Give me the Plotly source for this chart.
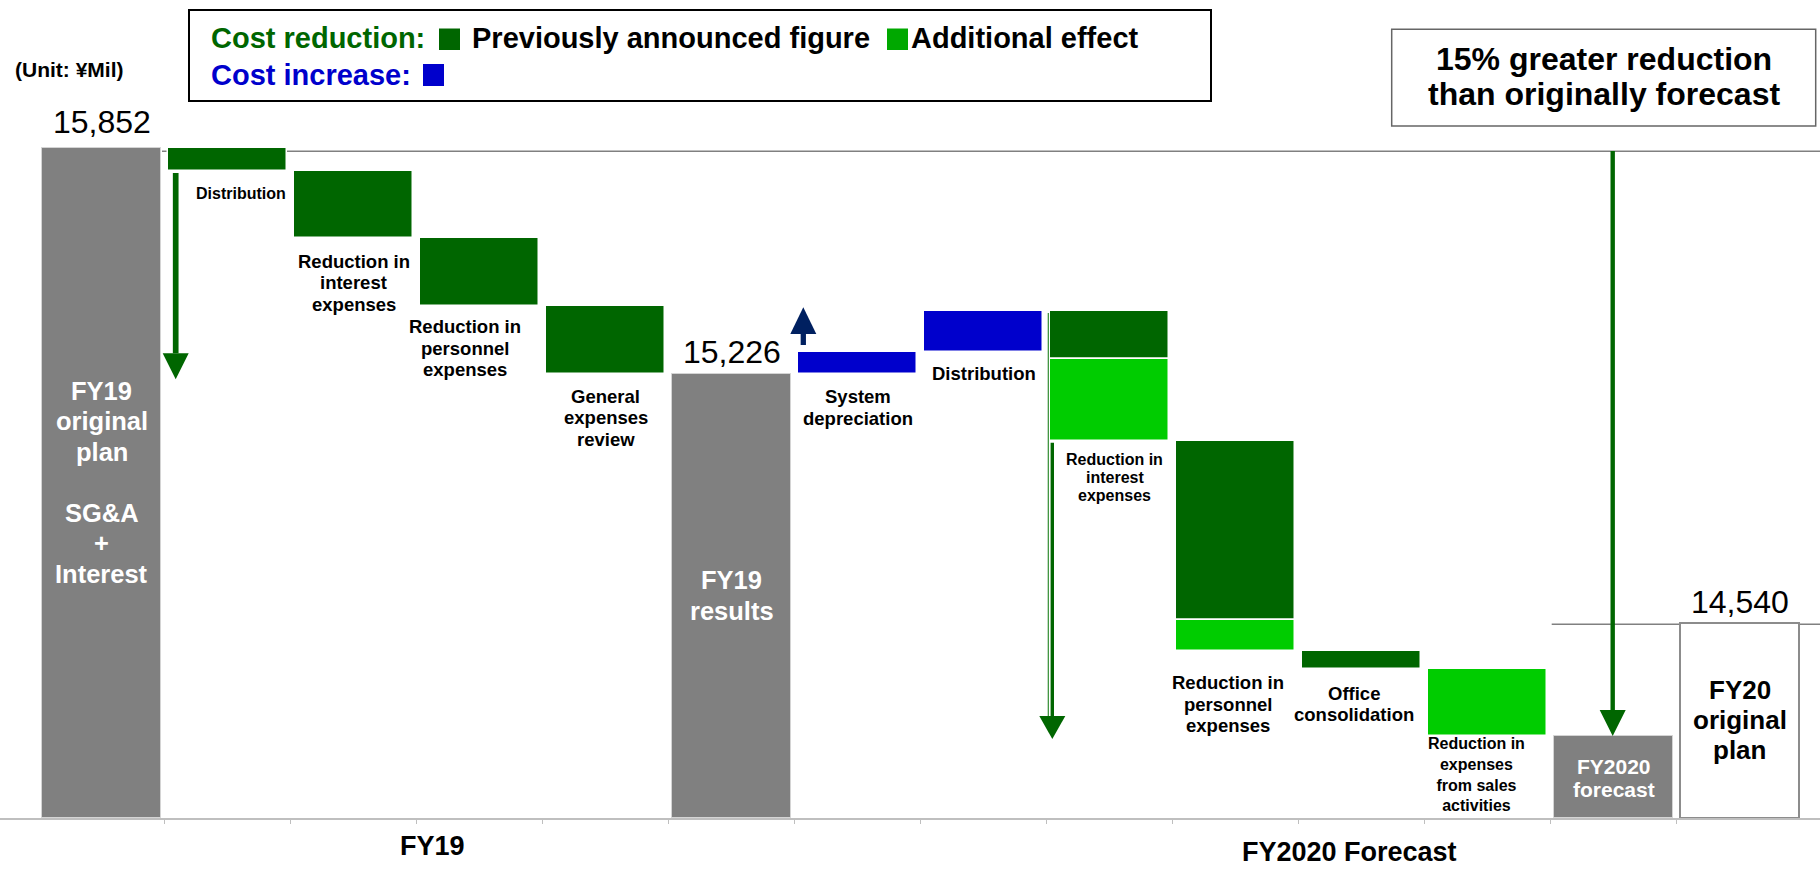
import plotly.graph_objects as go

# ---------------- data (¥Mil) ----------------
categories = [
    "FY19 original plan", "Distribution", "Reduction in interest expenses",
    "Reduction in personnel expenses", "General expenses review", "FY19 results",
    "System depreciation", "Distribution", "Reduction in interest expenses",
    "Reduction in personnel expenses", "Office consolidation",
    "Reduction in expenses from sales activities", "FY2020 forecast", "FY20 original plan",
]
label_lines = [
    ["FY19", "original", "plan", "", "SG&amp;A", "+", "Interest"],
    ["Distribution"],
    ["Reduction in", "interest", "expenses"],
    ["Reduction in", "personnel", "expenses"],
    ["General", "expenses", "review"],
    ["FY19", "results"],
    ["System", "depreciation"],
    ["Distribution"],
    ["Reduction in", "interest", "expenses"],
    ["Reduction in", "personnel", "expenses"],
    ["Office", "consolidation"],
    ["Reduction in", "expenses", "from sales", "activities"],
    ["FY2020", "forecast"],
    ["FY20", "original", "plan"],
]
fy19_plan = 15852
fy19_cuts = [64, 186, 186, 190]          # previously announced reductions FY19
fy19_results = 15226
fy20_increase = [62, 113]                # cost increases
fy20_cut_prev = [131, 495, 49, 0]        # previously announced figure
fy20_cut_add = [229, 85, 0, 184]         # additional effect
fy20_forecast = 14228
fy20_plan = 14540
group_labels = ["FY19", "FY2020 Forecast"]

# ---------------- geometry / style ----------------
W, H = 1820, 869
FONT = "Liberation Sans, Arial, sans-serif"
DG, LG, BLUE, GRAY, NAVY = "#006600", "#00CC00", "#0000CC", "#808080", "#002060"
Y0 = 14000                      # axis floor
PXU = 0.36177                   # pixels per ¥Mil
BASE_PX = 818
CAT_PX, CAT0_PX = 126.0, 101.7
XMIN = -CAT0_PX / CAT_PX
XMAX = XMIN + W / CAT_PX
YMAX = Y0 + BASE_PX / PXU


def fx(px):
    return px / W


def fy(py):
    return 1 - py / H


def v_of(py):
    return Y0 + (BASE_PX - py) / PXU


def x_of(px):
    return (px - CAT0_PX) / CAT_PX


# ---------------- build waterfall ----------------
dg_x, dg_b, dg_y = [], [], []
lg_x, lg_b, lg_y = [], [], []
bl_x, bl_b, bl_y = [], [], []
bottoms = {}
level = fy19_plan
for i, c in enumerate(fy19_cuts):
    xi = 1 + i
    level -= c
    dg_x.append(xi); dg_b.append(level); dg_y.append(c)
    bottoms[xi] = level
level = fy19_results
for i, inc in enumerate(fy20_increase):
    xi = 6 + i
    bl_x.append(xi); bl_b.append(level); bl_y.append(inc)
    bottoms[xi] = level
    level += inc
for i, (p, a) in enumerate(zip(fy20_cut_prev, fy20_cut_add)):
    xi = 8 + i
    if p:
        dg_x.append(xi); dg_b.append(level - p); dg_y.append(p)
    if a:
        lg_x.append(xi); lg_b.append(level - p - a); lg_y.append(a)
    level -= p + a
    bottoms[xi] = level

totals = {0: fy19_plan, 5: fy19_results, 12: fy20_forecast, 13: fy20_plan}

BW = 0.945
fig = go.Figure()
fig.add_trace(go.Bar(x=[0, 5, 12], y=[totals[k] - Y0 for k in (0, 5, 12)], base=[Y0] * 3,
                     width=BW, marker=dict(color=GRAY, line=dict(color="#d4d4d4", width=1))))
fig.add_trace(go.Bar(x=[13], y=[fy20_plan - Y0], base=[Y0], width=0.945,
                     marker=dict(color="white", line=dict(color="#8c8c8c", width=2))))
fig.add_trace(go.Bar(x=dg_x, y=dg_y, base=dg_b, width=BW,
                     marker=dict(color=DG, line=dict(color="white", width=1.5))))
fig.add_trace(go.Bar(x=lg_x, y=lg_y, base=lg_b, width=BW,
                     marker=dict(color=LG, line=dict(color="white", width=1.5))))
fig.add_trace(go.Bar(x=bl_x, y=bl_y, base=bl_b, width=BW,
                     marker=dict(color=BLUE, line=dict(color="white", width=1.5))))

# ---------------- labels ----------------
# per category: (size, line height, first-line offset px, xshift, color, anchor, mode)
label_style = {
    0: (25.5, 30.5, 242.5, 0, "white", "top", "lines"),
    1: (16, 18, 22.4, 13, "black", "bottom", "lines"),
    2: (18.5, 21.2, 23.3, 0, "black", "bottom", "lines"),
    3: (18.5, 21.4, 21.0, -15, "black", "bottom", "lines"),
    4: (18.5, 21.2, 22.2, 0, "black", "bottom", "lines"),
    5: (25.5, 31.0, 206.0, 0, "white", "top", "lines"),
    6: (18.5, 21.7, 22.2, 0, "black", "bottom", "lines"),
    7: (18.5, 21.0, 21.3, 0, "black", "bottom", "lines"),
    8: (16, 18.2, 18.1, 5, "black", "bottom", "lines"),
    9: (18.5, 21.5, 31.5, -8, "black", "bottom", "lines"),
    10: (18.5, 20.7, 24.8, -8, "black", "bottom", "lines"),
    11: (16, 0, 39.0, -11, "black", "bottom", "block"),   # block centre offset
    12: (21, 22.6, 31.2, 0, "white", "top", "lines"),
    13: (26, 29.7, 67.7, 0, "black", "top", "lines"),
}
annotations = []
for xi, lines in enumerate(label_lines):
    size, lh, off, xs, col, anc, mode = label_style[xi]
    yv = totals[xi] if anc == "top" else bottoms[xi]
    if mode == "block":
        annotations.append(dict(x=xi, y=yv, xref="x", yref="y",
                                text="<br>".join(f"<b>{l}</b>" for l in lines),
                                showarrow=False, xanchor="center", yanchor="middle", align="center",
                                xshift=xs, yshift=-off,
                                font=dict(family=FONT, size=size, color=col)))
        continue
    for k, line in enumerate(lines):
        if not line:
            continue
        annotations.append(dict(x=xi, y=yv, xref="x", yref="y", text=f"<b>{line}</b>",
                                showarrow=False, xanchor="center", yanchor="middle",
                                xshift=xs, yshift=-(off + k * lh),
                                font=dict(family=FONT, size=size, color=col)))

value_offsets = {0: 26.3, 5: 22.5, 13: 20.9}
for xi, off in value_offsets.items():
    annotations.append(dict(x=xi, y=totals[xi], xref="x", yref="y", text=f"{totals[xi]:,}",
                            showarrow=False, xanchor="center", yanchor="middle", yshift=off,
                            font=dict(family=FONT, size=32, color="black")))

# group labels under axis
for txt, cx, cy in zip(group_labels, [432, 1349], [846, 852]):
    annotations.append(dict(x=fx(cx), y=fy(cy), xref="paper", yref="paper", text=f"<b>{txt}</b>",
                            showarrow=False, xanchor="center", yanchor="middle",
                            font=dict(family=FONT, size=27, color="black")))

# unit
annotations.append(dict(x=fx(69), y=fy(69), xref="paper", yref="paper", text="<b>(Unit: ¥Mil)</b>",
                        showarrow=False, xanchor="center", yanchor="middle",
                        font=dict(family=FONT, size=21, color="black")))

# legend box texts
leg_font = 29
for txt, lx, cy, col in [("Cost reduction:", 208.5, 38, DG),
                         ("Previously announced figure", 469.5, 38, "black"),
                         ("Additional effect", 908.5, 38, "black"),
                         ("Cost increase:", 208.5, 75, BLUE)]:
    annotations.append(dict(x=fx(lx), y=fy(cy), xref="paper", yref="paper", text=f"<b>{txt}</b>",
                            showarrow=False, xanchor="left", yanchor="middle",
                            font=dict(family=FONT, size=leg_font, color=col)))

# right callout box text
for txt, cy in [("15% greater reduction", 58.7), ("than originally forecast", 94.5)]:
    annotations.append(dict(x=fx(1603.5), y=fy(cy), xref="paper", yref="paper", text=f"<b>{txt}</b>",
                            showarrow=False, xanchor="center", yanchor="middle",
                            font=dict(family=FONT, size=32, color="black")))

# ---------------- shapes ----------------
shapes = []
# reference lines
shapes.append(dict(type="line", xref="x", yref="y", x0=x_of(162), x1=XMAX, y0=v_of(151.3), y1=v_of(151.3),
                   line=dict(color="#808080", width=1.5), layer="below"))
shapes.append(dict(type="line", xref="x", yref="y", x0=x_of(1551.7), x1=XMAX, y0=v_of(624.3), y1=v_of(624.3),
                   line=dict(color="#808080", width=1.5), layer="below"))

# legend box + squares
shapes.append(dict(type="rect", xref="paper", yref="paper", x0=fx(189), x1=fx(1211), y0=fy(101), y1=fy(10),
                   line=dict(color="black", width=2), fillcolor="white", layer="below"))
for x0, x1, y0, y1, col in [(439, 460, 28.5, 50, DG), (887, 908, 28.5, 50, "#00A800"), (423, 444, 64, 86, BLUE)]:
    shapes.append(dict(type="rect", xref="paper", yref="paper", x0=fx(x0), x1=fx(x1), y0=fy(y1), y1=fy(y0),
                       line=dict(width=0), fillcolor=col))
# right callout box
shapes.append(dict(type="rect", xref="paper", yref="paper", x0=fx(1391.7), x1=fx(1815.7), y0=fy(126), y1=fy(29.3),
                   line=dict(color="#666666", width=1.5), fillcolor="white", layer="below"))


def add_arrow(xpx, start_py, tip_py, shaft_w, color, head_len=26, head_hw=13):
    x = x_of(xpx)
    down = tip_py > start_py
    base_py = tip_py - head_len if down else tip_py + head_len
    shapes.append(dict(type="line", xref="x", yref="y", x0=x, x1=x, y0=v_of(start_py), y1=v_of(base_py),
                       line=dict(color=color, width=shaft_w)))
    hw = head_hw / CAT_PX
    yb, yt = v_of(base_py), v_of(tip_py)
    shapes.append(dict(type="path", xref="x", yref="y",
                       path=f"M {x - hw},{yb} L {x + hw},{yb} L {x},{yt} Z",
                       fillcolor=color, line=dict(width=0)))


add_arrow(175.7, 173, 379.3, 5.7, DG)
add_arrow(803.3, 345, 307.3, 5.3, NAVY, head_len=26.7)
# long FY2020 arrow: thin guide line + thicker shaft + head
shapes.append(dict(type="line", xref="x", yref="y", x0=x_of(1048.3), x1=x_of(1048.3), y0=v_of(313), y1=v_of(716),
                   line=dict(color="#2e8b2e", width=1.2)))
add_arrow(1052.3, 442.7, 739, 3.4, DG, head_len=23)
add_arrow(1612.7, 151, 736, 4.4, DG)

fig.update_layout(
    width=W, height=H, autosize=False,
    margin=dict(l=0, r=0, t=0, b=0, pad=0),
    paper_bgcolor="white", plot_bgcolor="white",
    showlegend=False, barmode="overlay", bargap=0,
    xaxis=dict(range=[XMIN, XMAX], showgrid=False, zeroline=False, showline=True,
               linecolor="#bfbfbf", linewidth=1.5, ticks="outside", ticklen=4, tickwidth=1,
               tickcolor="#bfbfbf", tickvals=[i + 0.5 for i in range(13)], showticklabels=False,
               fixedrange=True),
    yaxis=dict(range=[Y0, YMAX], domain=[1 - BASE_PX / H, 1], visible=False, fixedrange=True),
    annotations=annotations, shapes=shapes,
)

fig.write_html("out.html", config={"displayModeBar": False, "responsive": False},
               post_script="document.body.style.margin='0';document.body.style.overflow='hidden';")
